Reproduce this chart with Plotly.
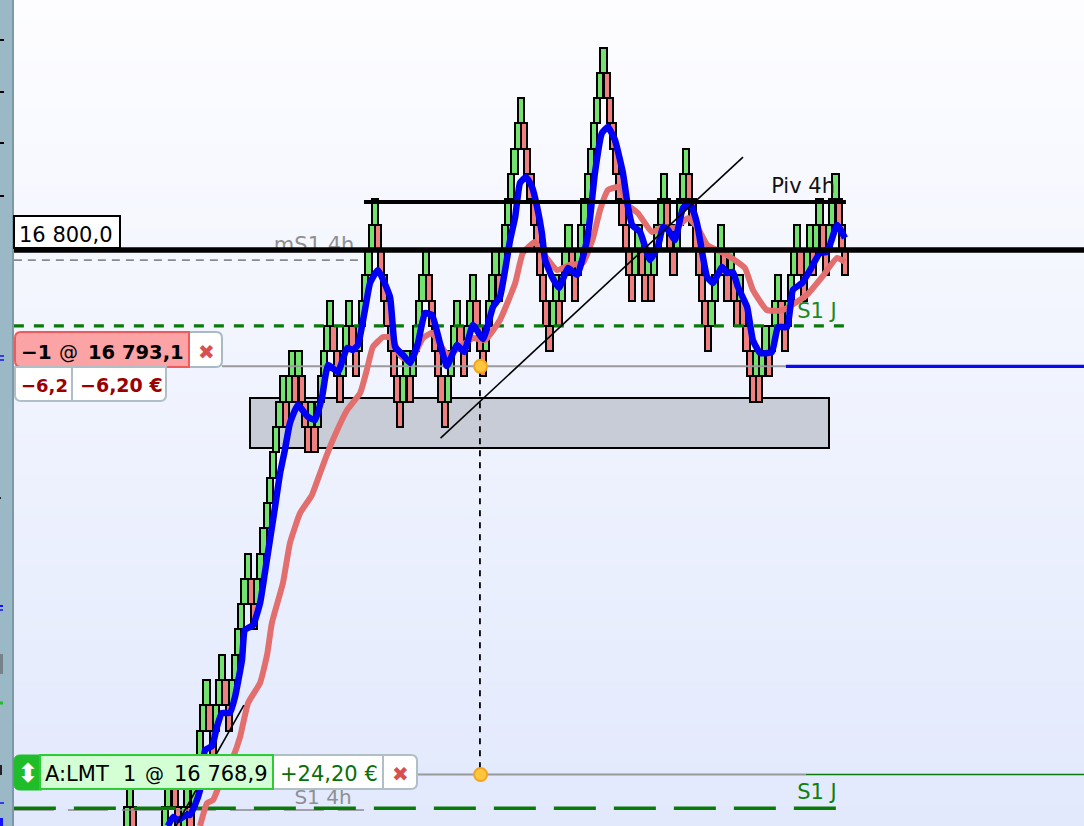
import plotly.graph_objects as go

# ---------- data ----------
REF_PRICE = 16800.0
BRICK = 1.5
# brick level (top edge, in bricks above 16 800) for each consecutive range bar
levels = [-23,-22,-21,-22,-23,-24,-25,-26,-27,-26,-25,-24,-23,-22,-21,-20,-21,-22,-23,-22,
          -21,-22,-21,-20,-19,-18,-17,-18,-19,-18,-17,-16,-17,-18,-17,-16,-15,-14,-13,-12,
          -13,-14,-13,-12,-11,-10,-9,-8,-7,-6,-5,-6,-5,-4,-5,-4,-5,-6,-7,-6,
          -7,-6,-5,-4,-3,-2,-3,-4,-5,-4,-3,-2,-3,-4,-3,-2,-1,0,1,2,
          1,0,-1,-2,-3,-4,-5,-6,-5,-4,-5,-4,-3,-2,-1,0,-1,-2,-3,-4,
          -5,-6,-5,-4,-3,-2,-3,-4,-3,-2,-1,-2,-3,-4,-3,-2,-1,0,-1,0,
          1,2,3,4,5,6,5,4,3,2,1,0,-1,-2,-3,-2,-1,-2,-1,0,
          1,0,-1,0,1,2,3,4,5,6,7,8,7,6,5,4,3,2,1,0,
          -1,0,1,0,-1,0,-1,0,1,2,3,2,1,0,1,2,3,4,3,2,
          1,0,-1,-2,-3,-2,-1,0,1,0,-1,0,-1,-2,-1,-2,-3,-4,-5,-4,
          -5,-4,-3,-4,-3,-2,-1,-2,-3,-2,-1,0,1,0,-1,0,1,0,1,2,
          1,0,1,2,3,2,1,0]

blue_bar = [13.9,15.5,17.1,19.6,20.8,22.4,24.0,25.6,27.8,29.3,30.9,33.4,35.0,37.2,38.1,40.7,42.9,44.4,46.0,47.6,
            49.2,50.7,52.3,54.8,58.0,60.2,62.4,64.3,67.4,70.3,72.1,73.7,75.9,77.5,80.0,83.8,85.4,87.9,90.1,92.6,
            94.8,97.0,99.5,101.7,104.9,107.1,109.9,113.1,116.2,118.4,121.6,123.2,124.7,126.6,128.5,130.1,131.6,132.6,134.8,137.0,
            139.8,142.7,145.8,146.8,148.3,150.5,152.4,154.6,157.1,158.7,160.0,162.5,165.6,168.1,169.7,171.3,173.5,176.0,178.2,180.4,
            182.3,183.6,185.5,188.3,189.9,191.7,193.3,196.2,198.0,200.3,204.0,205.9,208.8,210.6,213.5,216.0,219.1,221.4,224.5,227.0]
blue_ma = [16765.85,16766.38,16766.20,16766.50,16766.50,16767.09,16767.98,16770.36,16770.59,16771.72,16772.55,16772.55,16773.50,16775.69,16777.47,16777.77,16779.07,16780.85,16782.81,16784.76,
           16786.78,16788.14,16789.74,16790.81,16790.10,16789.92,16791.28,16793.18,16792.77,16794.19,16794.07,16794.37,16796.44,16798.04,16798.81,16797.21,16794.25,16793.77,16793.30,16794.49,
           16796.26,16796.15,16794.49,16793.12,16794.37,16793.95,16795.55,16794.72,16796.62,16797.21,16800.59,16801.96,16803.97,16804.33,16803.74,16802.55,16801.01,16799.41,16798.40,16797.75,
           16798.93,16798.52,16800.59,16801.96,16804.57,16806.94,16807.29,16806.52,16804.57,16802.55,16801.48,16801.07,16799.41,16800.18,16801.36,16801.19,16800.59,16802.49,16802.79,16801.60,
           16799.58,16798.40,16798.04,16798.99,16798.64,16798.70,16797.81,16796.62,16794.66,16793.89,16793.95,16795.43,16795.43,16797.63,16798.04,16798.81,16799.82,16799.88,16801.48,16800.71]

red_bar = [24.0,26.2,28.1,30.3,34.4,36.6,39.1,42.9,45.1,46.6,50.1,52.3,55.5,59.2,61.8,63.3,65.8,70.3,74.4,76.5,
           78.4,81.6,84.4,86.9,90.1,94.2,97.0,102.0,105.8,109.9,113.7,118.4,123.2,125.6,129.4,131.9,136.4,140.4,144.5,147.7,
           149.9,152.4,156.2,158.7,161.8,166.2,169.7,173.5,177.6,180.7,183.6,189.9,195.5,198.0,202.4,207.5,215.0,219.8,224.5,227.0]
red_ma = [16765.85,16767.21,16767.39,16768.40,16769.94,16771.13,16773.14,16774.33,16775.99,16777.88,16780.26,16782.63,16784.41,16785.47,16786.78,16787.55,16788.73,16790.51,16791.52,16792.89,
          16794.25,16794.84,16794.78,16793.77,16793.36,16794.78,16795.08,16793.77,16794.25,16794.78,16794.66,16795.85,16798.04,16799.82,16800.47,16799.82,16798.81,16799.11,16799.23,16800.71,
          16802.37,16803.56,16803.74,16802.67,16802.19,16801.07,16801.36,16801.30,16801.90,16801.30,16800.30,16799.70,16798.93,16797.63,16796.44,16796.44,16797.33,16798.40,16799.53,16799.29]

pivot_level = 16802.85
s1_daily = 16795.5
ms1_4h = 16799.4
s1_4h = 16766.8
s1_4h_green = 16766.9
short_price = 16793.1
limit_price = 16768.9
trend_a_bar = [99.7,194.9]
trend_a_price = [16788.85,16805.51]
trend_b_bar = [16.4,37.8]
trend_b_price = [16765.85,16773.02]
zone_bars = [39.7,222.0]
zone_prices = [16788.26,16791.23]
entry_bar = 112.1

# ---------- drawing constants ----------
W, H = 1084, 826
PX_PER_BAR = 3.177
FIRST_BAR_PX = 123.8
x_range = [-FIRST_BAR_PX / PX_PER_BAR, (W - FIRST_BAR_PX) / PX_PER_BAR]
y_range = [16765.85, 16814.82]
LEFT, RIGHT = -34.6, x_range[1]
FONT = "DejaVu Sans"

fig = go.Figure()

# background gradient
fig.add_trace(go.Heatmap(x=x_range, y=y_range, z=[[0, 0], [1, 1]], zsmooth="best", showscale=False,
                         zmin=0, zmax=1, colorscale=[[0, "#e2e9fd"], [1, "#fdfdff"]], hoverinfo="skip"))

# grey zone
fig.add_trace(go.Bar(x=[(zone_bars[0] + zone_bars[1]) / 2], width=[zone_bars[1] - zone_bars[0]],
                     base=[zone_prices[0]], y=[zone_prices[1] - zone_prices[0]],
                     marker=dict(color="#c8ccd6", line=dict(color="black", width=2)), hoverinfo="skip"))

# range bars
xs, bases, cols = [], [], []
for i, lv in enumerate(levels):
    xs.append(i)
    bases.append(REF_PRICE + BRICK * (lv - 1))
    up = i == 0 or lv > levels[i - 1]
    cols.append("#74e26f" if up else "#f08080")
fig.add_trace(go.Bar(x=xs, base=bases, y=[BRICK] * len(xs), width=1.95,
                     marker=dict(color=cols, line=dict(color="black", width=2)), hoverinfo="skip"))


def text_tr(bar, price, txt, color, size=21):
    fig.add_trace(go.Scatter(x=[bar], y=[price], mode="text", text=[txt], textposition="middle center",
                             textfont=dict(family=FONT, size=size, color=color), hoverinfo="skip"))


def line(xv, yv, color, width, dash=None):
    fig.add_trace(go.Scatter(x=xv, y=yv, mode="lines", hoverinfo="skip",
                             line=dict(color=color, width=width, dash=dash)))


# level texts underneath the lines
text_tr(59.9, 16800.18, "mS1 4h", "#8f8f92")
text_tr(62.7, 16767.45, "S1 4h", "#8f8f92", 20)
text_tr(218.2, 16796.26, "S1 J", "#1c8a1c")
text_tr(218.2, 16767.75, "S1 J", "#0d800d")

# level lines
line([LEFT, 75.0], [ms1_4h, ms1_4h], "#8a8a90", 1.6, "8px,6px")
line([LEFT, 75.6], [s1_4h, s1_4h], "#8a8a90", 1.6, "40px,14px")
line([LEFT, 227.3], [s1_daily, s1_daily], "#087a08", 3.4, "10px,10px")
line([LEFT, 224.2], [s1_4h_green, s1_4h_green], "#087a08", 3.4, "42px,18px")
line([30.9, 208.4], [short_price, short_price], "#9a9a9c", 2)
line([208.4, RIGHT], [short_price, short_price], "#0a0af0", 3.4)
line([92.3, 214.7], [limit_price, limit_price], "#9a9a9c", 2)
line([214.7, RIGHT], [limit_price, limit_price], "#0a7a0a", 1.4)
line([entry_bar, entry_bar], [short_price, limit_price], "black", 1.8, "6px,6px")

# moving averages
fig.add_trace(go.Scatter(x=red_bar, y=red_ma, mode="lines", hoverinfo="skip",
                         line=dict(color="#e26e6e", width=6, shape="spline", smoothing=0.4)))
fig.add_trace(go.Scatter(x=blue_bar, y=blue_ma, mode="lines", hoverinfo="skip",
                         line=dict(color="#0000f5", width=6.5, shape="spline", smoothing=0.4)))

# lines on top of the averages
line([LEFT, RIGHT], [REF_PRICE, REF_PRICE], "black", 5.5)
line([75.6, 227.3], [pivot_level, pivot_level], "black", 4)
line(trend_a_bar, trend_a_price, "black", 1.6)
line(trend_b_bar, trend_b_price, "black", 1.6)
text_tr(213.8, 16803.68, "Piv 4h", "#111111")

# order markers
fig.add_trace(go.Scatter(x=[entry_bar + 0.2, entry_bar + 0.2], y=[short_price, limit_price], mode="markers",
                         hoverinfo="skip", marker=dict(size=13, color="#ffc63d",
                                                       line=dict(color="#f5a41d", width=2))))


# ---------- order widgets (pixel-placed furniture) ----------
def X(p): return p / W
def Y(p): return 1 - p / H


shapes, notes = [], []


def rrect(x0, y0, x1, y1, fill, edge, lw=2, r=(0, 0, 0, 0)):
    tl, tr, br, bl = r
    path = f"M {X(x0+tl)} {Y(y0)} L {X(x1-tr)} {Y(y0)} Q {X(x1)} {Y(y0)} {X(x1)} {Y(y0+tr)} " \
           f"L {X(x1)} {Y(y1-br)} Q {X(x1)} {Y(y1)} {X(x1-br)} {Y(y1)} " \
           f"L {X(x0+bl)} {Y(y1)} Q {X(x0)} {Y(y1)} {X(x0)} {Y(y1-bl)} " \
           f"L {X(x0)} {Y(y0+tl)} Q {X(x0)} {Y(y0)} {X(x0+tl)} {Y(y0)} Z"
    shapes.append(dict(type="path", path=path, xref="paper", yref="paper", fillcolor=fill,
                       line=dict(color=edge, width=lw), layer="above"))


def note(px, py, txt, color="black", size=21, bold=False, anchor="left"):
    notes.append(dict(x=X(px), y=Y(py), xref="paper", yref="paper", text=f"<b>{txt}</b>" if bold else txt,
                      showarrow=False, xanchor=anchor, yanchor="middle", borderpad=0,
                      font=dict(family=FONT, size=size, color=color)))


# 16 800 tag
rrect(14, 216, 120, 248, "white", "black", 2)
note(18, 235, "16 800,0", size=21)

# short position widget
rrect(188, 332, 222, 367, "white", "#a9bac5", 2, (0, 6, 6, 0))
rrect(15, 332, 189, 367, "#fca3a5", "#f05a5a", 2, (6, 0, 0, 6))
note(20, 352, "−1", bold=True, size=20)
note(58, 352, "@", size=19)
note(87, 352, "16 793,1", bold=True, size=19.5)
note(206, 352, "✖", "#d94f4f", 20, anchor="center")
rrect(15, 367, 72, 401, "white", "#b0bec5", 2, (0, 0, 0, 6))
rrect(72, 367, 166, 401, "white", "#b0bec5", 2, (0, 0, 6, 0))
note(20, 385, "−6,2", "#9b0000", 18, True)
note(79, 385, "−6,20 €", "#9b0000", 19, True)

# limit order widget
rrect(382, 755, 417, 789, "white", "#b0bec5", 2, (0, 6, 6, 0))
rrect(272, 755, 383, 789, "white", "#b0bec5", 2)
rrect(14, 755, 42, 790, "#1fbd2a", "#1fbd2a", 1, (6, 0, 0, 6))
rrect(40, 755, 273, 789, "#d4ffd4", "#2dcc35", 2)
note(28, 773, "⬍", "white", 26, anchor="center")
note(44, 774, "A:LMT", size=21)
note(122, 774, "1", size=21)
note(144, 774, "@", size=19)
note(173, 774, "16 768,9", size=21)
note(279, 774, "+24,20 €", "#0a6e0a", 21)
note(400, 774, "✖", "#d94f4f", 20, anchor="center")

# left rail
shapes.insert(0, dict(type="rect", xref="paper", yref="paper", x0=0, x1=X(14), y0=0, y1=1, fillcolor="#9bb8c6",
                      line=dict(width=0), layer="above"))
shapes.insert(1, dict(type="rect", xref="paper", yref="paper", x0=X(12), x1=X(14), y0=0, y1=1, fillcolor="#7d98a6",
                      line=dict(width=0), layer="above"))
rail_marks = [(40, "black", 4, 2), (92, "black", 4, 2), (143, "black", 4, 2), (196, "black", 4, 2),
              (356, "#1010ff", 4, 1.5), (360, "#1010ff", 4, 1.5), (498, "#222222", 1, 2), (606, "#1010ff", 3, 2),
              (610, "#1010ff", 3, 1.5), (664, "#77838a", 3, 20), (703, "#1fbd2a", 3, 3), (770, "#222222", 2, 10),
              (803, "#1010ff", 4, 1.5), (822, "#1010ff", 3, 8)]
for py, col, wd, ht in rail_marks:
    shapes.append(dict(type="rect", xref="paper", yref="paper", x0=0, x1=X(wd), y0=Y(py + ht / 2), y1=Y(py - ht / 2),
                       fillcolor=col, line=dict(width=0), layer="above"))

fig.update_layout(width=W, height=H, margin=dict(l=0, r=0, t=0, b=0), barmode="overlay", showlegend=False,
                  plot_bgcolor="#f0f4fe", paper_bgcolor="#f0f4fe", bargap=0, shapes=shapes, annotations=notes,
                  xaxis=dict(range=x_range, visible=False, fixedrange=True),
                  yaxis=dict(range=y_range, visible=False, fixedrange=True))

fig.write_html("out.html", post_script="document.body.style.margin='0';", config={"displayModeBar": False})
